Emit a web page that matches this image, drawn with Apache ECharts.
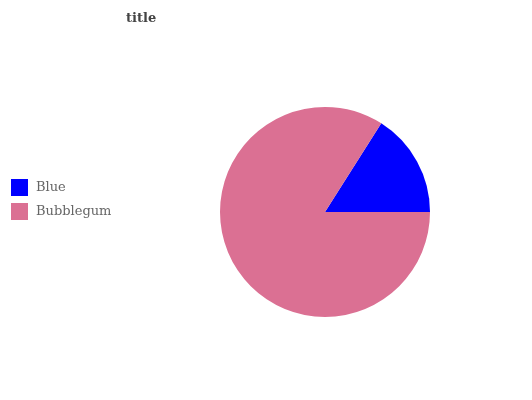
<!DOCTYPE html>
<html>
<head>
<meta charset="utf-8">
<script src="https://cdn.jsdelivr.net/npm/echarts@6/dist/echarts.min.js"></script>
<style>html,body{margin:0;padding:0;background:#fff}#c{width:532px;height:400px}</style>
</head>
<body>
<div id="c"></div>
<script>
var categories = ['Blue', 'Bubblegum'];
var values = [16, 84];
var colors = ['#0000ff', '#db7093'];

var chart = echarts.init(document.getElementById('c'));
chart.setOption({
  animation: false,
  title: {
    text: 'title', left: 121, top: 7, padding: 5,
    textStyle: {fontFamily: 'DejaVu Serif', fontSize: 13, fontWeight: 'bold', color: '#444'}
  },
  legend: {
    orient: 'vertical', left: 6, top: 174, padding: 5,
    itemWidth: 17, itemHeight: 17, itemGap: 7,
    icon: 'rect',
    data: categories,
    textStyle: {fontFamily: 'DejaVu Serif', fontSize: 13, color: '#666', padding: [0, 0, 0, 3]}
  },
  series: [{
    type: 'pie',
    center: [325, 212],
    radius: 105,
    startAngle: 57.6,
    clockwise: true,
    label: {show: false},
    labelLine: {show: false},
    emphasis: {disabled: true},
    itemStyle: {borderWidth: 0},
    data: categories.map(function (c, i) {
      return {name: c, value: values[i], itemStyle: {color: colors[i]}};
    })
  }]
});
</script>
</body>
</html>
